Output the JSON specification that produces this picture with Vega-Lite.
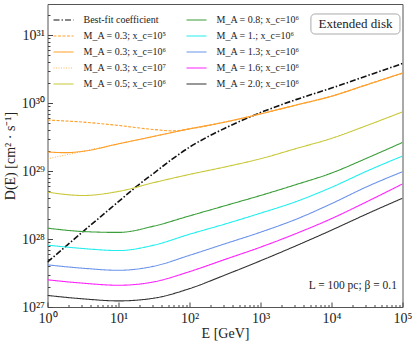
{
  "$schema": "https://vega.github.io/schema/vega-lite/v6.json",
  "width": 355,
  "height": 303,
  "autosize": "none",
  "padding": {"left": 47.5, "top": 4, "right": 12.5, "bottom": 36},
  "background": "white",
  "config": {
    "font": "Liberation Serif",
    "view": {"stroke": "#555", "strokeWidth": 1},
    "axis": {"domain": false, "grid": false, "labelFont": "Liberation Serif", "titleFont": "Liberation Serif", "labelColor": "#222", "titleColor": "#222", "tickColor": "#444", "labelFlush": false, "labelOverlap": false, "titleFontWeight": "normal"}
  },
  "resolve": {"axis": {"x": "independent", "y": "independent"}},
  "layer": [
    {
      "data": {"values": [
        {"series": "Best-fit coefficient", "E": 1, "D": 4.571e27},
        {"series": "Best-fit coefficient", "E": 3.162, "D": 1.288e28},
        {"series": "Best-fit coefficient", "E": 5.623, "D": 2.138e28},
        {"series": "Best-fit coefficient", "E": 10, "D": 3.548e28},
        {"series": "Best-fit coefficient", "E": 17.78, "D": 5.888e28},
        {"series": "Best-fit coefficient", "E": 31.62, "D": 9.333e28},
        {"series": "Best-fit coefficient", "E": 56.23, "D": 1.479e29},
        {"series": "Best-fit coefficient", "E": 100, "D": 2.239e29},
        {"series": "Best-fit coefficient", "E": 177.8, "D": 3.162e29},
        {"series": "Best-fit coefficient", "E": 316.2, "D": 4.266e29},
        {"series": "Best-fit coefficient", "E": 562.3, "D": 5.623e29},
        {"series": "Best-fit coefficient", "E": 1000, "D": 7.244e29},
        {"series": "Best-fit coefficient", "E": 3162, "D": 1.122e30},
        {"series": "Best-fit coefficient", "E": 10000, "D": 1.660e30},
        {"series": "Best-fit coefficient", "E": 31623, "D": 2.512e30},
        {"series": "Best-fit coefficient", "E": 100000, "D": 3.802e30},

        {"series": "M_A = 0.3; x_c=10⁵", "E": 1, "D": 5.623e29},
        {"series": "M_A = 0.3; x_c=10⁵", "E": 3.162, "D": 5.248e29},
        {"series": "M_A = 0.3; x_c=10⁵", "E": 10, "D": 4.677e29},
        {"series": "M_A = 0.3; x_c=10⁵", "E": 31.62, "D": 4.074e29},
        {"series": "M_A = 0.3; x_c=10⁵", "E": 58.88, "D": 3.890e29},
        {"series": "M_A = 0.3; x_c=10⁵", "E": 100, "D": 4.169e29},
        {"series": "M_A = 0.3; x_c=10⁵", "E": 316.2, "D": 5.248e29},
        {"series": "M_A = 0.3; x_c=10⁵", "E": 1000, "D": 6.918e29},
        {"series": "M_A = 0.3; x_c=10⁵", "E": 3162, "D": 9.333e29},
        {"series": "M_A = 0.3; x_c=10⁵", "E": 10000, "D": 1.259e30},
        {"series": "M_A = 0.3; x_c=10⁵", "E": 31623, "D": 1.862e30},
        {"series": "M_A = 0.3; x_c=10⁵", "E": 100000, "D": 2.754e30},

        {"series": "M_A = 0.3; x_c=10⁷", "E": 1, "D": 1.514e29},
        {"series": "M_A = 0.3; x_c=10⁷", "E": 1.778, "D": 1.718e29},
        {"series": "M_A = 0.3; x_c=10⁷", "E": 3.162, "D": 1.950e29},
        {"series": "M_A = 0.3; x_c=10⁷", "E": 10, "D": 2.512e29},
        {"series": "M_A = 0.3; x_c=10⁷", "E": 31.62, "D": 3.236e29},
        {"series": "M_A = 0.3; x_c=10⁷", "E": 100, "D": 4.169e29},
        {"series": "M_A = 0.3; x_c=10⁷", "E": 316.2, "D": 5.248e29},
        {"series": "M_A = 0.3; x_c=10⁷", "E": 1000, "D": 6.918e29},
        {"series": "M_A = 0.3; x_c=10⁷", "E": 3162, "D": 9.333e29},
        {"series": "M_A = 0.3; x_c=10⁷", "E": 10000, "D": 1.259e30},
        {"series": "M_A = 0.3; x_c=10⁷", "E": 31623, "D": 1.862e30},
        {"series": "M_A = 0.3; x_c=10⁷", "E": 100000, "D": 2.754e30},

        {"series": "M_A = 0.3; x_c=10⁶", "E": 1, "D": 1.905e29},
        {"series": "M_A = 0.3; x_c=10⁶", "E": 1.778, "D": 1.862e29},
        {"series": "M_A = 0.3; x_c=10⁶", "E": 3.162, "D": 1.950e29},
        {"series": "M_A = 0.3; x_c=10⁶", "E": 10, "D": 2.512e29},
        {"series": "M_A = 0.3; x_c=10⁶", "E": 31.62, "D": 3.236e29},
        {"series": "M_A = 0.3; x_c=10⁶", "E": 100, "D": 4.169e29},
        {"series": "M_A = 0.3; x_c=10⁶", "E": 316.2, "D": 5.248e29},
        {"series": "M_A = 0.3; x_c=10⁶", "E": 1000, "D": 6.918e29},
        {"series": "M_A = 0.3; x_c=10⁶", "E": 3162, "D": 9.333e29},
        {"series": "M_A = 0.3; x_c=10⁶", "E": 10000, "D": 1.259e30},
        {"series": "M_A = 0.3; x_c=10⁶", "E": 31623, "D": 1.862e30},
        {"series": "M_A = 0.3; x_c=10⁶", "E": 100000, "D": 2.754e30},

        {"series": "M_A = 0.5; x_c=10⁶", "E": 1, "D": 4.898e28},
        {"series": "M_A = 0.5; x_c=10⁶", "E": 3.162, "D": 4.365e28},
        {"series": "M_A = 0.5; x_c=10⁶", "E": 10, "D": 5.012e28},
        {"series": "M_A = 0.5; x_c=10⁶", "E": 31.62, "D": 6.761e28},
        {"series": "M_A = 0.5; x_c=10⁶", "E": 100, "D": 8.913e28},
        {"series": "M_A = 0.5; x_c=10⁶", "E": 316.2, "D": 1.148e29},
        {"series": "M_A = 0.5; x_c=10⁶", "E": 1000, "D": 1.514e29},
        {"series": "M_A = 0.5; x_c=10⁶", "E": 3162, "D": 2.138e29},
        {"series": "M_A = 0.5; x_c=10⁶", "E": 10000, "D": 3.020e29},
        {"series": "M_A = 0.5; x_c=10⁶", "E": 31623, "D": 4.677e29},
        {"series": "M_A = 0.5; x_c=10⁶", "E": 100000, "D": 7.413e29},

        {"series": "M_A = 0.8; x_c=10⁶", "E": 1, "D": 1.445e28},
        {"series": "M_A = 0.8; x_c=10⁶", "E": 3.162, "D": 1.288e28},
        {"series": "M_A = 0.8; x_c=10⁶", "E": 10, "D": 1.250e28},
        {"series": "M_A = 0.8; x_c=10⁶", "E": 31.62, "D": 1.549e28},
        {"series": "M_A = 0.8; x_c=10⁶", "E": 100, "D": 2.188e28},
        {"series": "M_A = 0.8; x_c=10⁶", "E": 316.2, "D": 3.090e28},
        {"series": "M_A = 0.8; x_c=10⁶", "E": 1000, "D": 4.365e28},
        {"series": "M_A = 0.8; x_c=10⁶", "E": 3162, "D": 6.310e28},
        {"series": "M_A = 0.8; x_c=10⁶", "E": 10000, "D": 9.333e28},
        {"series": "M_A = 0.8; x_c=10⁶", "E": 31623, "D": 1.549e29},
        {"series": "M_A = 0.8; x_c=10⁶", "E": 100000, "D": 2.630e29},

        {"series": "M_A = 1.; x_c=10⁶", "E": 1, "D": 8.128e27},
        {"series": "M_A = 1.; x_c=10⁶", "E": 3.162, "D": 7.244e27},
        {"series": "M_A = 1.; x_c=10⁶", "E": 10, "D": 6.761e27},
        {"series": "M_A = 1.; x_c=10⁶", "E": 31.62, "D": 8.128e27},
        {"series": "M_A = 1.; x_c=10⁶", "E": 100, "D": 1.175e28},
        {"series": "M_A = 1.; x_c=10⁶", "E": 316.2, "D": 1.660e28},
        {"series": "M_A = 1.; x_c=10⁶", "E": 1000, "D": 2.399e28},
        {"series": "M_A = 1.; x_c=10⁶", "E": 3162, "D": 3.548e28},
        {"series": "M_A = 1.; x_c=10⁶", "E": 10000, "D": 5.754e28},
        {"series": "M_A = 1.; x_c=10⁶", "E": 31623, "D": 1.0e29},
        {"series": "M_A = 1.; x_c=10⁶", "E": 100000, "D": 1.660e29},

        {"series": "M_A = 1.3; x_c=10⁶", "E": 1, "D": 4.169e27},
        {"series": "M_A = 1.3; x_c=10⁶", "E": 3.162, "D": 3.715e27},
        {"series": "M_A = 1.3; x_c=10⁶", "E": 10, "D": 3.467e27},
        {"series": "M_A = 1.3; x_c=10⁶", "E": 31.62, "D": 3.981e27},
        {"series": "M_A = 1.3; x_c=10⁶", "E": 100, "D": 5.754e27},
        {"series": "M_A = 1.3; x_c=10⁶", "E": 316.2, "D": 8.511e27},
        {"series": "M_A = 1.3; x_c=10⁶", "E": 1000, "D": 1.259e28},
        {"series": "M_A = 1.3; x_c=10⁶", "E": 3162, "D": 1.950e28},
        {"series": "M_A = 1.3; x_c=10⁶", "E": 10000, "D": 3.311e28},
        {"series": "M_A = 1.3; x_c=10⁶", "E": 31623, "D": 5.888e28},
        {"series": "M_A = 1.3; x_c=10⁶", "E": 100000, "D": 9.772e28},

        {"series": "M_A = 1.6; x_c=10⁶", "E": 1, "D": 2.512e27},
        {"series": "M_A = 1.6; x_c=10⁶", "E": 3.162, "D": 2.239e27},
        {"series": "M_A = 1.6; x_c=10⁶", "E": 10, "D": 2.089e27},
        {"series": "M_A = 1.6; x_c=10⁶", "E": 31.62, "D": 2.344e27},
        {"series": "M_A = 1.6; x_c=10⁶", "E": 100, "D": 3.311e27},
        {"series": "M_A = 1.6; x_c=10⁶", "E": 316.2, "D": 5.012e27},
        {"series": "M_A = 1.6; x_c=10⁶", "E": 1000, "D": 7.586e27},
        {"series": "M_A = 1.6; x_c=10⁶", "E": 3162, "D": 1.202e28},
        {"series": "M_A = 1.6; x_c=10⁶", "E": 10000, "D": 1.995e28},
        {"series": "M_A = 1.6; x_c=10⁶", "E": 31623, "D": 3.548e28},
        {"series": "M_A = 1.6; x_c=10⁶", "E": 100000, "D": 6.457e28},

        {"series": "M_A = 2.0; x_c=10⁶", "E": 1, "D": 1.479e27},
        {"series": "M_A = 2.0; x_c=10⁶", "E": 3.162, "D": 1.318e27},
        {"series": "M_A = 2.0; x_c=10⁶", "E": 10, "D": 1.230e27},
        {"series": "M_A = 2.0; x_c=10⁶", "E": 31.62, "D": 1.349e27},
        {"series": "M_A = 2.0; x_c=10⁶", "E": 100, "D": 1.862e27},
        {"series": "M_A = 2.0; x_c=10⁶", "E": 316.2, "D": 2.951e27},
        {"series": "M_A = 2.0; x_c=10⁶", "E": 1000, "D": 4.786e27},
        {"series": "M_A = 2.0; x_c=10⁶", "E": 3162, "D": 7.943e27},
        {"series": "M_A = 2.0; x_c=10⁶", "E": 10000, "D": 1.349e28},
        {"series": "M_A = 2.0; x_c=10⁶", "E": 31623, "D": 2.344e28},
        {"series": "M_A = 2.0; x_c=10⁶", "E": 100000, "D": 3.981e28}
      ]},
      "mark": {"type": "line", "interpolate": "monotone", "clip": true},
      "encoding": {
        "x": {"field": "E", "type": "quantitative",
          "scale": {"type": "log", "domain": [1, 100000], "nice": false},
          "axis": {"orient": "bottom", "values": [1, 10, 100, 1000, 10000, 100000],
            "labelExpr": "['10⁰','10¹','10²','10³','10⁴','10⁵'][round(log(datum.value)/LN10)]",
            "tickSize": -5, "labelPadding": 9, "labelFontSize": 14, "title": "E [GeV]", "titleFontSize": 14, "titlePadding": 1}},
        "y": {"field": "D", "type": "quantitative",
          "scale": {"type": "log", "domain": [1e27, 2.86e31], "nice": false},
          "axis": {"orient": "left", "values": [1e27, 1e28, 1e29, 1e30, 1e31],
            "labelExpr": "['10²⁷','10²⁸','10²⁹','10³⁰','10³¹'][round(log(datum.value)/LN10)-27]",
            "tickSize": -5, "labelPadding": 8, "labelFontSize": 14, "title": "D(E) [cm² · s⁻¹]", "titleFontSize": 14, "titlePadding": 4}},
        "color": {"field": "series", "type": "nominal",
          "scale": {
            "domain": ["Best-fit coefficient", "M_A = 0.3; x_c=10⁵", "M_A = 0.3; x_c=10⁶", "M_A = 0.3; x_c=10⁷", "M_A = 0.5; x_c=10⁶", "M_A = 0.8; x_c=10⁶", "M_A = 1.; x_c=10⁶", "M_A = 1.3; x_c=10⁶", "M_A = 1.6; x_c=10⁶", "M_A = 2.0; x_c=10⁶"],
            "range": ["#111111", "#ff9f2a", "#ff9f2a", "#ffb85c", "#c8c83a", "#3a9e3a", "#22eeee", "#6b93ea", "#ff22ff", "#333333"]},
          "legend": {"title": null, "orient": "top-left", "offset": 5, "columns": 2, "columnPadding": 16, "rowPadding": -0.7,
            "symbolType": "stroke", "symbolSize": 400, "symbolStrokeWidth": 1.2, "labelFontSize": 10, "labelFont": "Liberation Serif", "labelColor": "#222", "labelOffset": 9, "padding": 0, "labelLimit": 200}},
        "strokeDash": {"field": "series", "type": "nominal",
          "scale": {
            "domain": ["Best-fit coefficient", "M_A = 0.3; x_c=10⁵", "M_A = 0.3; x_c=10⁶", "M_A = 0.3; x_c=10⁷", "M_A = 0.5; x_c=10⁶", "M_A = 0.8; x_c=10⁶", "M_A = 1.; x_c=10⁶", "M_A = 1.3; x_c=10⁶", "M_A = 1.6; x_c=10⁶", "M_A = 2.0; x_c=10⁶"],
            "range": [[6, 2, 1.5, 2], [3, 1.5], [1, 0], [1, 1.5], [1, 0], [1, 0], [1, 0], [1, 0], [1, 0], [1, 0]]}},
        "strokeWidth": {"condition": {"test": "datum.series === 'Best-fit coefficient'", "value": 1.6}, "value": 1.1}
      }
    },
    {
      "data": {"values": [{"E1": 5130, "E2": 92200, "D1": 1.035e31, "D2": 2.04e31}]},
      "mark": {"type": "rect", "fill": "white", "stroke": "#aaaaaa", "strokeWidth": 1, "cornerRadius": 4},
      "encoding": {
        "x": {"field": "E1", "type": "quantitative", "scale": {"type": "log"},
          "axis": {"orient": "bottom", "title": null, "labels": false, "tickSize": -2.5,
            "values": [2,3,4,5,6,7,8,9,20,30,40,50,60,70,80,90,200,300,400,500,600,700,800,900,2000,3000,4000,5000,6000,7000,8000,9000,20000,30000,40000,50000,60000,70000,80000,90000]}},
        "x2": {"field": "E2"},
        "y": {"field": "D1", "type": "quantitative", "scale": {"type": "log"},
          "axis": {"orient": "left", "title": null, "labels": false, "tickSize": -2.5,
            "values": [2e27,3e27,4e27,5e27,6e27,7e27,8e27,9e27,2e28,3e28,4e28,5e28,6e28,7e28,8e28,9e28,2e29,3e29,4e29,5e29,6e29,7e29,8e29,9e29,2e30,3e30,4e30,5e30,6e30,7e30,8e30,9e30,2e31]}},
        "y2": {"field": "D2"}
      }
    },
    {
      "data": {"values": [{"E": 21780, "D": 1.445e31, "label": "Extended disk"}]},
      "mark": {"type": "text", "fontSize": 13, "font": "Liberation Serif", "color": "#222", "align": "center", "baseline": "middle"},
      "encoding": {
        "x": {"field": "E", "type": "quantitative", "axis": null},
        "y": {"field": "D", "type": "quantitative", "axis": null},
        "text": {"field": "label"}
      }
    },
    {
      "data": {"values": [{"E": 83700, "D": 2.056e27, "label": "L = 100 pc; β = 0.1"}]},
      "mark": {"type": "text", "fontSize": 11.5, "font": "Liberation Serif", "color": "#222", "align": "right", "baseline": "middle"},
      "encoding": {
        "x": {"field": "E", "type": "quantitative", "axis": null},
        "y": {"field": "D", "type": "quantitative", "axis": null},
        "text": {"field": "label"}
      }
    }
  ]
}
